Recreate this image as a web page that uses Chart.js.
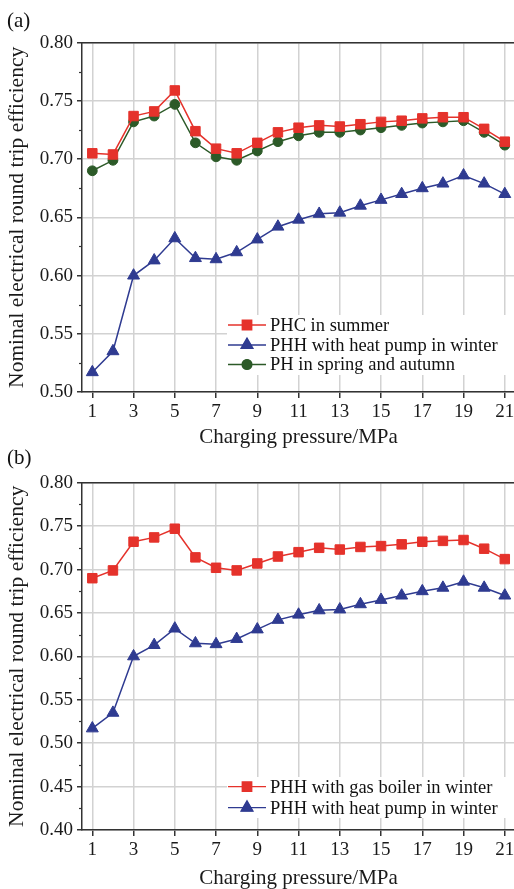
<!DOCTYPE html>
<html>
<head>
<meta charset="utf-8">
<script src="https://cdn.jsdelivr.net/npm/chart.js@4.4.1/dist/chart.umd.min.js"></script>
<style>
html,body{margin:0;padding:0;background:#fff;overflow:hidden;width:514px;height:889px;position:relative}
.wrap{position:absolute;left:0}
.tag{position:absolute;left:7px;font:21px "Liberation Serif",serif;color:#111;line-height:24px}
</style>
</head>
<body>
<div class="wrap" style="top:0"><canvas id="chartA" width="523" height="448"></canvas></div>
<div class="wrap" style="top:448px"><canvas id="chartB" width="523" height="441"></canvas></div>
<div class="tag" style="top:8px">(a)</div>
<div class="tag" style="top:445px">(b)</div>
<script>
// charging pressure (MPa)
const pressure = [1,2,3,4,5,6,7,8,9,10,11,12,13,14,15,16,17,18,19,20,21];
const xTicks = [1,3,5,7,9,11,13,15,17,19,21];

// panel (a)
const phcSummer = [0.705,0.704,0.737,0.741,0.759,0.724,0.709,0.705,0.714,0.723,0.727,0.729,0.728,0.730,0.732,0.733,0.735,0.736,0.736,0.726,0.715];
const phhHeatPump = [0.517,0.535,0.600,0.613,0.632,0.615,0.614,0.620,0.631,0.642,0.648,0.653,0.654,0.660,0.665,0.670,0.675,0.679,0.686,0.679,0.670];
const phSpringAutumn = [0.690,0.699,0.732,0.737,0.747,0.714,0.702,0.699,0.707,0.715,0.720,0.723,0.723,0.725,0.727,0.729,0.731,0.732,0.733,0.723,0.712];

// panel (b)
const phhGasBoiler = [0.690,0.699,0.732,0.737,0.747,0.714,0.702,0.699,0.707,0.715,0.720,0.725,0.723,0.726,0.727,0.729,0.732,0.733,0.734,0.724,0.712];

const RED = '#e5322b', BLUE = '#2f3b91', GREEN = '#2c5a28';
const SERIF = '"Liberation Serif", "Times New Roman", serif';

const pts = arr => pressure.map((p,i)=>({x:p,y:arr[i]}));
function series(label,arr,color,style,r){
  return {label,data:pts(arr),borderColor:color,backgroundColor:color,borderWidth:1.5,
    pointStyle:style,pointRadius:r,pointHoverRadius:r,pointBorderWidth:1,pointBorderColor:color,tension:0};
}

// legend box drawn inside the plot + minor y ticks + top frame
const decor = {
  id:'decor',
  afterDatasetsDraw(chart,args,o){
    const ctx = chart.ctx, ca = chart.chartArea, y = chart.scales.y;
    ctx.save();
    // top frame
    ctx.strokeStyle = '#333'; ctx.lineWidth = 1.5;
    ctx.beginPath(); ctx.moveTo(ca.left,ca.top); ctx.lineTo(ca.right,ca.top); ctx.stroke();
    // minor ticks
    ctx.lineWidth = 1.2;
    for(let v=y.min+0.025; v<y.max; v+=0.05){
      const py = Math.round(y.getPixelForValue(v))+0.5;
      ctx.beginPath(); ctx.moveTo(ca.left-3,py); ctx.lineTo(ca.left,py); ctx.stroke();
    }
    // legend
    const b = o.box;
    ctx.fillStyle = '#fff'; ctx.fillRect(b.x,b.y,b.w,b.h);
    ctx.font = '18.5px '+SERIF; ctx.textBaseline = 'middle'; ctx.textAlign = 'left';
    chart.data.datasets.forEach((ds,i)=>{
      const ry = o.rows[i];
      ctx.strokeStyle = ds.borderColor; ctx.lineWidth = 1.3;
      ctx.beginPath(); ctx.moveTo(228,ry); ctx.lineTo(266,ry); ctx.stroke();
      ctx.fillStyle = ds.backgroundColor;
      Chart.helpers.drawPoint(ctx,{pointStyle:ds.pointStyle,radius:ds.pointRadius,borderWidth:1,rotation:0},247,ry);
      ctx.fill();
      ctx.fillStyle = '#111';
      ctx.fillText(ds.label,270,ry+1);
    });
    ctx.restore();
  }
};

function makeChart(id,datasets,cfg){
  return new Chart(document.getElementById(id),{
    type:'line',
    data:{datasets},
    plugins:[decor],
    options:{
      responsive:false,animation:false,
      layout:{padding:{top:cfg.padTop,right:5,left:0,bottom:0}},
      plugins:{legend:{display:false},tooltip:{enabled:false},decor:cfg.legend},
      scales:{
        x:{type:'linear',min:0.5,max:21.5,
          afterBuildTicks:s=>{s.ticks = xTicks.map(v=>({value:v}));},
          afterFit:s=>{s.height = cfg.xH;},
          grid:{color:'#d2d2d2',lineWidth:1.5,tickColor:'#333',tickLength:6},
          border:{color:'#333',width:1.5},
          ticks:{color:'#1a1a1a',padding:3,maxRotation:0,font:{family:SERIF,size:19}},
          title:{display:true,text:'Charging pressure/MPa',color:'#1a1a1a',padding:{top:0,bottom:0},
            font:{family:SERIF,size:21,lineHeight:1}}
        },
        y:{min:cfg.yMin,max:0.8,
          afterFit:s=>{s.width = 82;},
          grid:{color:'#d2d2d2',lineWidth:1.5,tickColor:'#333',tickLength:5},
          border:{color:'#333',width:1.5},
          ticks:{stepSize:0.05,color:'#1a1a1a',padding:4,font:{family:SERIF,size:19},
            callback:v=>v.toFixed(2)},
          title:{display:true,text:'Nominal electrical round trip efficiency',color:'#1a1a1a',
            padding:{top:7,bottom:0},font:{family:SERIF,size:21.5,lineHeight:1}}
        }
      }
    }
  });
}

makeChart('chartA',[
  series('PHC in summer',phcSummer,RED,'rect',6.7),
  series('PHH with heat pump in winter',phhHeatPump,BLUE,'triangle',6.9),
  series('PH in spring and autumn',phSpringAutumn,GREEN,'circle',4.9)
],{padTop:42.7,xH:56,yMin:0.5,legend:{box:{x:227,y:315,w:290,h:60},rows:[325,345,364.5]}});

makeChart('chartB',[
  series('PHH with gas boiler in winter',phhGasBoiler,RED,'rect',6.7),
  series('PHH with heat pump in winter',phhHeatPump,BLUE,'triangle',6.9)
],{padTop:34.7,xH:59,yMin:0.4,legend:{box:{x:227,y:329,w:290,h:41},rows:[338.7,359.7]}});
</script>
</body>
</html>
